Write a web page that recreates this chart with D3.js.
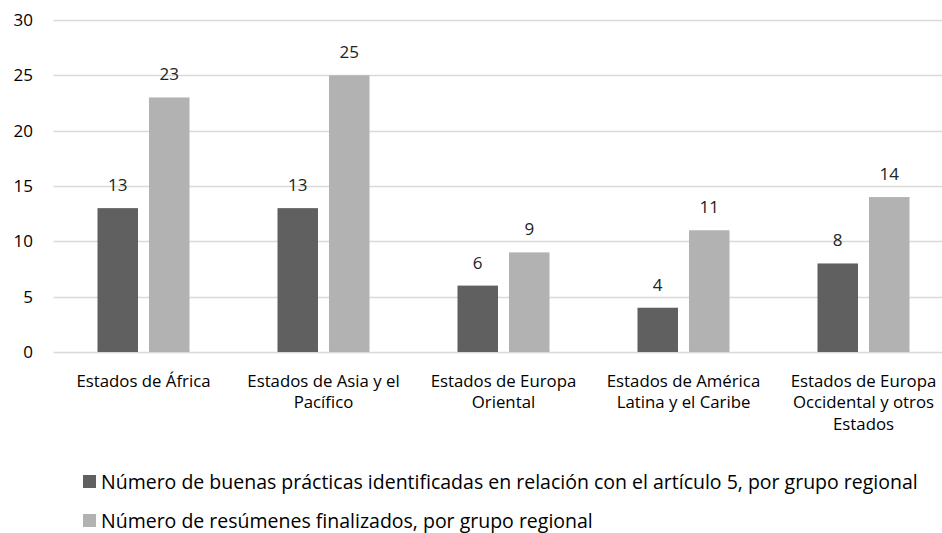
<!DOCTYPE html>
<html>
<head>
<meta charset="utf-8">
<script src="https://cdn.jsdelivr.net/npm/d3@7"></script>
<style>
  body { margin: 0; background: #fff; }
  svg { display: block; font-family: "Open Sans", Lato, sans-serif; }
</style>
</head>
<body>
<svg width="942" height="533"></svg>
<script>
var categories = [
  ["Estados de África"],
  ["Estados de Asia y el", "Pacífico"],
  ["Estados de Europa", "Oriental"],
  ["Estados de América", "Latina y el Caribe"],
  ["Estados de Europa", "Occidental y otros", "Estados"]
];
var seriesNames = [
  "Número de buenas prácticas identificadas en relación con el artículo 5, por grupo regional",
  "Número de resúmenes finalizados, por grupo regional"
];
var buenasPracticas = [13, 13, 6, 4, 8];
var resumenes = [23, 25, 9, 11, 14];
var yTicks = [0, 5, 10, 15, 20, 25, 30];

var colors = ["#606060", "#b2b2b2"];

var svg = d3.select("svg"),
    width = +svg.attr("width"),
    height = +svg.attr("height");

var plotLeft = 53.5, plotTop = 20, plotBottom = 352;

var x = d3.scaleBand()
    .domain(d3.range(categories.length))
    .range([plotLeft, plotLeft + 900])
    .paddingInner(0).paddingOuter(0);

// two bars per group, ~40px wide with an ~11px gap
var x1 = d3.scaleBand()
    .domain([0, 1])
    .range([0, x.bandwidth()])
    .paddingInner(0.214).paddingOuter(0.854);

var y = d3.scaleLinear().domain([0, 30]).range([plotBottom, plotTop]);

// gridlines
svg.append("g").selectAll("line").data(yTicks).enter().append("line")
    .attr("x1", plotLeft).attr("x2", width)
    .attr("y1", d => Math.round(y(d)) + 0.5).attr("y2", d => Math.round(y(d)) + 0.5)
    .attr("stroke", "#d9d9d9").attr("stroke-width", 1.5);

// y labels
svg.append("g").selectAll("text").data(yTicks).enter().append("text")
    .attr("x", 33).attr("y", d => y(d))
    .attr("dy", "0.35em").attr("text-anchor", "end")
    .attr("font-size", 17).attr("fill", "#000")
    .text(d => d);

var series = [buenasPracticas, resumenes];

var groups = svg.append("g").selectAll("g").data(categories).enter().append("g")
    .attr("transform", (d, i) => "translate(" + x(i) + ",0)");

groups.each(function(c, i) {
  var g = d3.select(this);
  series.forEach(function(s, j) {
    g.append("rect")
        .attr("x", x1(j)).attr("width", x1.bandwidth())
        .attr("y", y(s[i])).attr("height", y(0) - y(s[i]))
        .attr("fill", colors[j]);
    g.append("text")
        .attr("x", x1(j) + x1.bandwidth() / 2).attr("y", y(s[i]) - 23)
        .attr("dy", "0.35em")
        .attr("text-anchor", "middle").attr("font-size", 17).attr("fill", "#222")
        .text(s[i]);
  });
  var t = g.append("text")
      .attr("x", x.bandwidth() / 2).attr("y", 381)
      .attr("text-anchor", "middle").attr("font-size", 16.8).attr("fill", "#000");
  c.forEach(function(line, k) {
    t.append("tspan").attr("x", x.bandwidth() / 2).attr("dy", k ? 21.5 : "0.35em").text(line);
  });
});

// legend
var legend = svg.append("g").selectAll("g").data(seriesNames).enter().append("g")
    .attr("transform", (d, i) => "translate(83," + (475 + i * 39) + ")");
legend.append("rect").attr("width", 13).attr("height", 13).attr("fill", (d, i) => colors[i]);
legend.append("text").attr("x", 18).attr("y", 7).attr("dy", "0.35em")
    .attr("font-size", 19.5).attr("fill", "#000")
    .text(d => d);
</script>
</body>
</html>
